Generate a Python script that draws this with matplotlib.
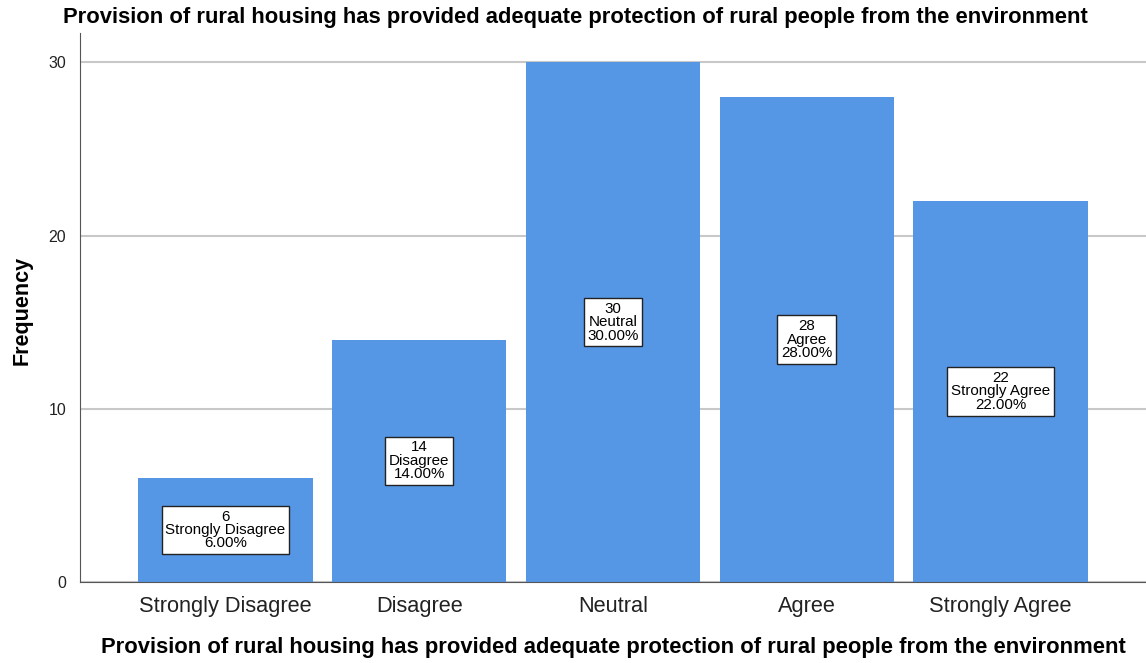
import matplotlib
matplotlib.use("Agg")
import matplotlib.pyplot as plt

categories = ["Strongly Disagree", "Disagree", "Neutral", "Agree", "Strongly Agree"]
counts = [6, 14, 30, 28, 22]
percents = [6.00, 14.00, 30.00, 28.00, 22.00]
title = "Provision of rural housing has provided adequate protection of rural people from the environment"

plt.rcParams['font.family'] = ['Liberation Sans', 'DejaVu Sans']

fig = plt.figure(figsize=(11.46, 6.63), dpi=100)
ax = fig.add_axes([80 / 1146, 1 - 582 / 663, 1 - 80 / 1146, (582 - 33) / 663])

x = list(range(len(categories)))
ax.bar(x, counts, width=0.9, color="#5596E5", zorder=2)

for i in x:
    ax.text(i, counts[i] / 2, "%d\n%s\n%.2f%%" % (counts[i], categories[i], percents[i]),
            ha="center", va="center", fontsize=10.9, linespacing=0.95, zorder=3,
            bbox=dict(boxstyle="square,pad=0.25", fc="white", ec="#222222", lw=1))

ax.set_xlim(-0.75, 4.75)
ax.set_ylim(0, 31.7)
ax.set_yticks([0, 10, 20, 30])
ax.set_xticks(x)
ax.set_xticklabels(categories, fontsize=15.7, color="#222222")
ax.tick_params(axis="y", labelsize=11.5, length=0, pad=10, labelcolor="#222222")
ax.tick_params(axis="x", length=0, pad=10)
ax.yaxis.grid(True, color="#c8c8c8", lw=1.5, zorder=0)
ax.set_axisbelow(True)

for s in ["top", "right"]:
    ax.spines[s].set_visible(False)
ax.spines["left"].set_color("#555555")
ax.spines["bottom"].set_color("#555555")

# axis titles placed as figure text to match the reference layout
fig.text(22 / 1146, 1 - 310 / 663, "Frequency", rotation=90, ha="center", va="center",
         fontsize=15.5, fontweight="bold")
fig.text(613 / 1146, 1 - 648 / 663, title, ha="center", va="center", fontsize=15.8, fontweight="bold")
fig.text(575 / 1146, 1 - 17 / 663, title, ha="center", va="center", fontsize=15.8, fontweight="bold")

fig.savefig("out.png", dpi=100)
